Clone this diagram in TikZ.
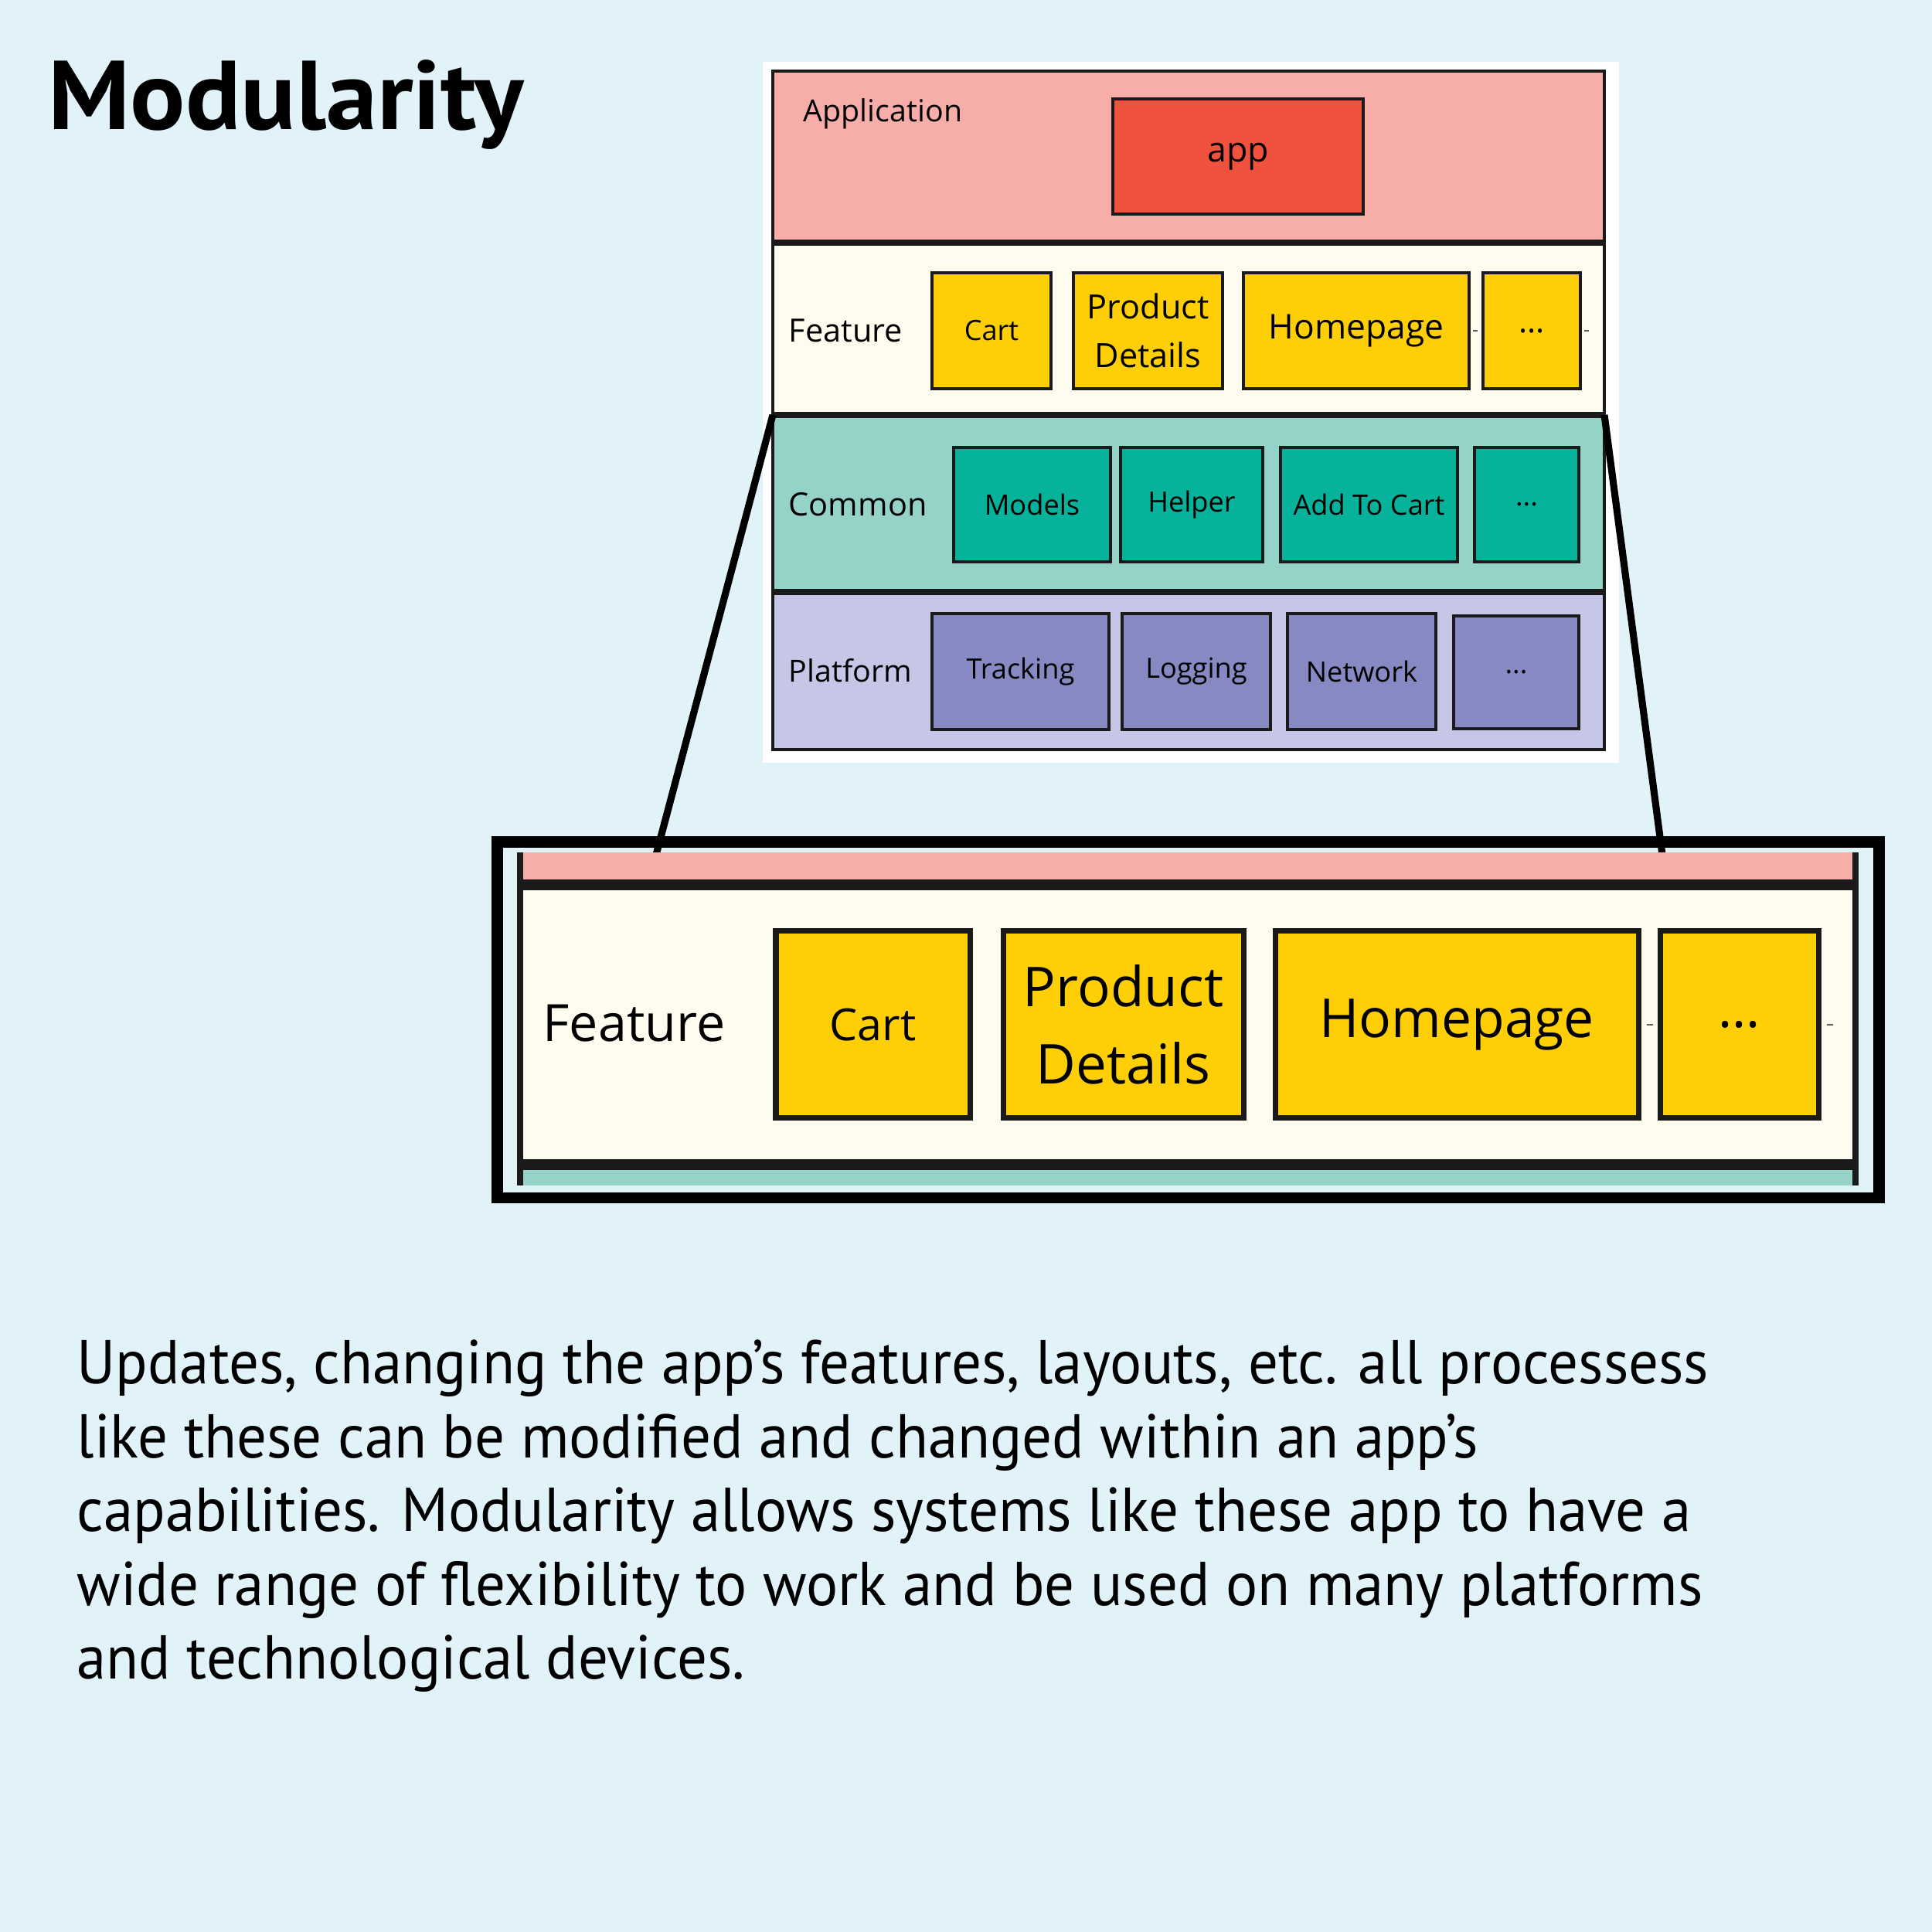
\documentclass[tikz,border=0pt]{standalone}
\usepackage{fontspec}
\setmainfont{Open Sans}
\newfontfamily\bodyfont[FakeStretch=0.96]{PT Sans}
\newfontfamily\titlefont[FakeStretch=1.05]{PT Sans}
\usetikzlibrary{positioning,calc}

\definecolor{bgblue}{HTML}{E1F2F9}
\definecolor{ink}{HTML}{1A1A1A}
\definecolor{apppink}{HTML}{F8AEA8}
\definecolor{appred}{HTML}{F0523E}
\definecolor{featcream}{HTML}{FEFCEE}
\definecolor{featyellow}{HTML}{FECF06}
\definecolor{comteal}{HTML}{95D3C9}
\definecolor{comgreen}{HTML}{06B39A}
\definecolor{platlav}{HTML}{C6C7E6}
\definecolor{platpurple}{HTML}{8789C3}

\begin{document}
\begin{tikzpicture}[
  x=1cm,y=1cm,
  layer/.style={draw=ink, line width=1.4pt, minimum width=10.76cm, inner sep=0pt, outer sep=0pt},
  module/.style={draw=ink, line width=1.3pt, align=center, inner sep=0pt, outer sep=0pt,
    minimum height=1.5cm, font=\fontsize{10.3}{12.4}\selectfont},
  bigmodule/.style={draw=ink, line width=2pt, align=center, inner sep=0pt, outer sep=0pt,
    minimum height=2.42cm},
  tag/.style={anchor=base west, inner sep=0pt},
  sepline/.style={ink, line width=2.3pt},
  bigsep/.style={ink, line width=4pt},
  zoomline/.style={black, line width=2.6pt},
  stub/.style={ink!70, line width=0.5pt}
]
\useasboundingbox (0,0) rectangle (25,25);
\fill[bgblue] (0,0) rectangle (25,25);

% Title
\node[tag, font=\titlefont\bfseries\fontsize{36}{40}\selectfont] (title) at (0.62,23.32) {Modularity};

% Layer stack
\fill[white] (9.87,15.13) rectangle (20.95,24.20);
\node[layer, fill=apppink, minimum height=2.22cm] (appl) at (15.38,22.97) {};
\node[layer, fill=featcream, minimum height=2.23cm] (feat) at (15.38,20.745) {};
\node[layer, fill=comteal, minimum height=2.29cm] (comm) at (15.38,18.485) {};
\node[layer, fill=platlav, minimum height=2.04cm] (plat) at (15.38,16.32) {};
\draw[sepline] (feat.north west) -- (feat.north east);
\draw[sepline] (comm.north west) -- (comm.north east);
\draw[sepline] (plat.north west) -- (plat.north east);

% Application row
\node[tag, font=\fontsize{11.2}{13}\selectfont] (applab) at (10.39,23.42) {Application};
\node[module, fill=appred, minimum width=3.24cm, minimum height=1.49cm,
  font=\fontsize{12.7}{15}\selectfont] (app) at (16.02,22.975) {app};

% Feature row
\node[tag, font=\fontsize{11.8}{14}\selectfont] (featlab) at (10.20,20.57) {Feature};
\node[module, fill=featyellow, minimum width=1.54cm] (cart) at (12.83,20.72) {Cart};
\node[module, fill=featyellow, minimum width=1.93cm,
  font=\fontsize{12.3}{17.9}\selectfont] (prod) at (14.855,20.72) {Product\\Details};
\node[module, fill=featyellow, minimum width=2.92cm,
  font=\fontsize{12.6}{15}\selectfont] (home) at (17.55,20.72) {Homepage};
\node[module, fill=featyellow, minimum width=1.26cm,
  font=\fontsize{12}{15}\selectfont] (fmore) at (19.82,20.72) {...};
\draw[stub] ([xshift=1.5pt]home.east) -- ++(0.06,0);
\draw[stub] ([xshift=1.5pt]fmore.east) -- ++(0.06,0);

% Common row
\node[tag, font=\fontsize{11.8}{14}\selectfont] (commlab) at (10.20,18.32) {Common};
\node[module, fill=comgreen, minimum width=2.03cm, minimum height=1.48cm] (models) at (13.355,18.47) {Models};
\node[module, fill=comgreen, minimum width=1.84cm, minimum height=1.48cm] (helper) at (15.42,18.47) {Helper};
\node[module, fill=comgreen, minimum width=2.29cm, minimum height=1.48cm] (addcart) at (17.715,18.47) {Add To Cart};
\node[module, fill=comgreen, minimum width=1.35cm, minimum height=1.48cm] (cmore) at (19.755,18.47) {...};

% Platform row
\node[tag, font=\fontsize{11.2}{14}\selectfont] (platlab) at (10.20,16.17) {Platform};
\node[module, fill=platpurple, minimum width=2.29cm] (track) at (13.205,16.31) {Tracking};
\node[module, fill=platpurple, minimum width=1.92cm] (logg) at (15.48,16.31) {Logging};
\node[module, fill=platpurple, minimum width=1.92cm] (netw) at (17.62,16.31) {Network};
\node[module, fill=platpurple, minimum width=1.62cm, minimum height=1.46cm] (pmore) at (19.62,16.30) {...};

% Zoom lines down to the enlarged feature row
\coordinate (zoomL) at (8.49,13.94);
\coordinate (zoomR) at (21.51,13.94);
\draw[zoomline] (feat.south west) -- (zoomL);
\draw[zoomline] (feat.south east) -- (zoomR);

% Enlarged feature row
\node[draw=black, line width=4.25pt, minimum width=17.88cm, minimum height=4.605cm, inner sep=0pt] (frame) at (15.375,11.8025) {};
\fill[apppink] (6.73,13.55) rectangle (24.01,13.97);
\node[fill=featcream, minimum width=17.28cm, minimum height=3.62cm, inner sep=0pt, outer sep=0pt] (bigfeat) at (15.37,11.74) {};
\fill[comteal] (6.73,9.66) rectangle (24.01,9.93);
\draw[bigsep] (bigfeat.north west) -- (bigfeat.north east);
\draw[bigsep] (bigfeat.south west) -- (bigfeat.south east);
\draw[ink, line width=2.5pt] (6.73,9.66) -- (6.73,13.97);
\draw[ink, line width=2.5pt] (24.01,9.66) -- (24.01,13.97);

\node[tag, font=\fontsize{18.9}{22}\selectfont] (bigfeatlab) at (7.02,11.52) {Feature};
\node[bigmodule, fill=featyellow, minimum width=2.51cm, font=\fontsize{16.3}{20}\selectfont] (bigcart) at (11.295,11.74) {Cart};
\node[bigmodule, fill=featyellow, minimum width=3.11cm, font=\fontsize{20.2}{28.3}\selectfont] (bigprod) at (14.535,11.74) {Product\\Details};
\node[bigmodule, fill=featyellow, minimum width=4.70cm, font=\fontsize{19.8}{24}\selectfont] (bighome) at (18.85,11.74) {Homepage};
\node[bigmodule, fill=featyellow, minimum width=2.05cm, font=\fontsize{19.5}{24}\selectfont] (bigmore) at (22.505,11.74) {...};
\draw[stub] ([xshift=3pt]bighome.east) -- ++(0.08,0);
\draw[stub] ([xshift=3pt]bigmore.east) -- ++(0.08,0);

% Description (base = last line)
\node[tag, align=left, font=\bodyfont\fontsize{22.8}{27.2}\selectfont] (desc) at (0.99,3.27)
  {Updates, changing the app’s features, layouts, etc. all processess\\
   like these can be modified and changed within an app’s\\
   capabilities. Modularity allows systems like these app to have a\\
   wide range of flexibility to work and be used on many platforms\\
   and technological devices.};

\end{tikzpicture}
\end{document}
